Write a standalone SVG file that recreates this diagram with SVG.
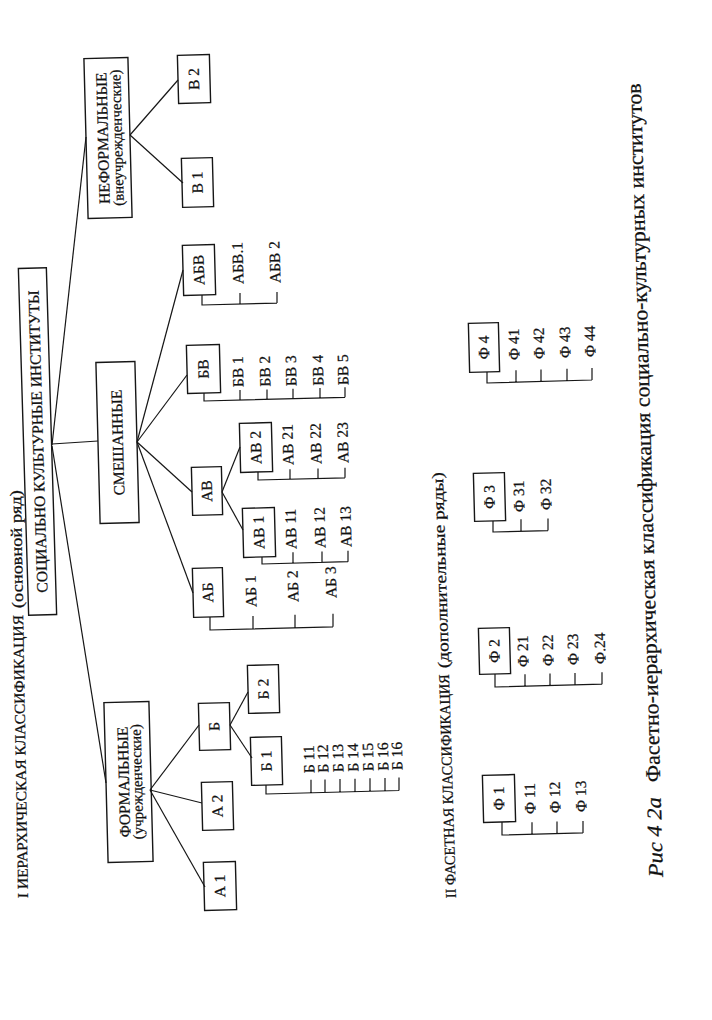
<svg xmlns="http://www.w3.org/2000/svg" width="712" height="1020" viewBox="0 0 712 1020">
<style>
.bx{fill:none;stroke:#161616;stroke-width:1.4}
.ln{fill:none;stroke:#161616;stroke-width:1.2}
text{font-family:"Liberation Serif","Times New Roman",serif;fill:#111;stroke:#111;stroke-width:0.25}
.n{font-size:15.5px;text-anchor:middle}
.l{font-size:15.5px}
.ti{font-size:15px}
.tp{font-size:16px}
.cap{font-size:21px}
</style>
<rect width="712" height="1020" fill="#fff"/>

<g id="titles">
<text class="ti" transform="translate(28,898) rotate(-91)" textLength="283" lengthAdjust="spacingAndGlyphs">I  ИЕРАРХИЧЕСКАЯ КЛАССИФИКАЦИЯ</text>
<text class="tp" transform="translate(23,608) rotate(-91)" textLength="118" lengthAdjust="spacingAndGlyphs">(основной ряд)</text>
<text class="ti" transform="translate(456,898) rotate(-91.8)" textLength="224" lengthAdjust="spacingAndGlyphs">II  ФАСЕТНАЯ КЛАССИФИКАЦИЯ</text>
<text class="tp" transform="translate(449,668) rotate(-91.8)" textLength="196" lengthAdjust="spacingAndGlyphs">(дополнительные ряды)</text>
<text class="cap" font-style="italic" transform="translate(663,877) rotate(-91.6)" textLength="80" lengthAdjust="spacingAndGlyphs">Рис  4 2а</text>
<text class="cap" transform="translate(660.3,782) rotate(-91.6)" textLength="699" lengthAdjust="spacingAndGlyphs">Фасетно-иерархическая классификация социально-культурных институтов</text>
</g>

<g id="connectors" class="ln">
<path d="M52,444 L98,441"/>
<path d="M52,445 L86,137"/>
<path d="M52,446 L106,783"/>
<path d="M137,442 L183,270"/>
<path d="M137,442 L187,375"/>
<path d="M137,442 L192,492"/>
<path d="M137,442 L193,593"/>
<path d="M222,492 L243,530"/>
<path d="M222,492 L240,447"/>
<path d="M130,135 L178,80"/>
<path d="M130,135 L183,183"/>
<path d="M150,790 L199,725"/>
<path d="M150,790 L202,803"/>
<path d="M150,790 L205,887"/>
<path d="M230,725 L248,692"/>
<path d="M230,725 L252,758"/>
<path d="M210,617 V630 L333,626.8 M253,628.9 V615.9 M295,627.8 V614.8 M333,626.8 V613.8"/>
<path d="M262,557 V564 L348,561.7 M293,563.2 V552.2 M322,562.4 V551.4 M348,561.7 V550.7"/>
<path d="M258,472 V480 L345,477.8 M290,479.2 V469.2 M318,478.4 V468.4 M345,477.8 V467.8"/>
<path d="M204,393 V401 L345,397.3 M240,400 V390 M267,399.4 V389.4 M293,398.7 V388.7 M320,398 V388 M345,397.3 V387.3"/>
<path d="M202,295 V305 L277,303.1 M240,304 V293 M277,303.1 V292.1"/>
<path d="M266,785 V794 L399,790.5 M311,792.8 V779.8 M325,792.5 V779.5 M340,792.1 V779.1 M355,791.7 V778.7 M370,791.3 V778.3 M385,790.9 V777.9 M399,790.5 V777.5"/>
<path d="M502,822 V835 L583,832.9 M532,834.2 V822.2 M557,833.6 V821.6 M583,832.9 V820.9"/>
<path d="M495,674 V687 L602,684.2 M525,686.2 V674.2 M550,685.5 V673.5 M575,684.9 V672.9 M602,684.2 V672.2"/>
<path d="M493,521 V532 L548,530.6 M521,531.3 V519.3 M548,530.6 V518.6"/>
<path d="M487,372 V383 L592,380 M516,382.2 V370.2 M541,381.6 V369.6 M567,380.7 V368.7 M592,380 V368"/>
</g>

<g id="n_root" transform="rotate(-1.7 37.5 441.5)">
<rect class="bx" x="23.5" y="268" width="28" height="347"/>
<text class="n" transform="translate(43,441.5) rotate(-90)">СОЦИАЛЬНО КУЛЬТУРНЫЕ ИНСТИТУТЫ</text>
</g>
<g id="n_mixed" transform="rotate(-1.5 117.5 442.5)">
<rect class="bx" x="98" y="362" width="39" height="161"/>
<text class="n" transform="translate(123,442.5) rotate(-90)">СМЕШАННЫЕ</text>
</g>
<g id="n_informal" transform="rotate(-1.5 108 138)">
<rect class="bx" x="86" y="58" width="44" height="160"/>
<text class="n" transform="translate(108,138) rotate(-90)">НЕФОРМАЛЬНЫЕ</text>
<text class="n" style="font-size:15px" transform="translate(122,138) rotate(-90)">(внеучрежденческие)</text>
</g>
<g id="n_formal" transform="rotate(-1.5 128.5 782)">
<rect class="bx" x="106" y="702" width="45" height="160"/>
<text class="n" transform="translate(129,782) rotate(-90)">ФОРМАЛЬНЫЕ</text>
<text class="n" style="font-size:15px" transform="translate(142,782) rotate(-90)">(учрежденческие)</text>
</g>

<g id="n_AB" transform="rotate(-1.5 208 592.5)"><rect class="bx" x="193" y="568" width="30" height="49"/><text class="n" transform="translate(213,592.5) rotate(-90)">АБ</text></g>
<g id="n_AV" transform="rotate(-1.5 207 491)"><rect class="bx" x="192" y="467" width="30" height="48"/><text class="n" transform="translate(212,491) rotate(-90)">АВ</text></g>
<g id="n_BV" transform="rotate(-1.5 203.5 369)"><rect class="bx" x="187" y="345" width="33" height="48"/><text class="n" transform="translate(208.5,369) rotate(-90)">БВ</text></g>
<g id="n_ABV" transform="rotate(-1.5 199 270)"><rect class="bx" x="183" y="245" width="32" height="50"/><text class="n" transform="translate(204,270) rotate(-90)">АБВ</text></g>
<g id="n_AV1" transform="rotate(-1.5 259 532.5)"><rect class="bx" x="243" y="508" width="32" height="49"/><text class="n" transform="translate(264,532.5) rotate(-90)">АВ 1</text></g>
<g id="n_AV2" transform="rotate(-1.5 256 447.5)"><rect class="bx" x="240" y="423" width="32" height="49"/><text class="n" transform="translate(261,447.5) rotate(-90)">АВ 2</text></g>
<g id="n_V2" transform="rotate(-1.5 194 79)"><rect class="bx" x="178" y="55" width="32" height="48"/><text class="n" transform="translate(199,79) rotate(-90)">В 2</text></g>
<g id="n_V1" transform="rotate(-1.5 197.5 182.5)"><rect class="bx" x="182" y="158" width="31" height="49"/><text class="n" transform="translate(202.5,182.5) rotate(-90)">В 1</text></g>
<g id="n_B" transform="rotate(-1.5 214.5 726.5)"><rect class="bx" x="199" y="703" width="31" height="47"/><text class="n" transform="translate(219.5,726.5) rotate(-90)">Б</text></g>
<g id="n_A2" transform="rotate(-1.5 217.5 806)"><rect class="bx" x="202" y="782" width="31" height="48"/><text class="n" transform="translate(222.5,806) rotate(-90)">А 2</text></g>
<g id="n_A1" transform="rotate(-1.5 220 886)"><rect class="bx" x="204" y="862" width="32" height="48"/><text class="n" transform="translate(225,886) rotate(-90)">А 1</text></g>
<g id="n_B2" transform="rotate(-1.5 263.5 689)"><rect class="bx" x="248" y="665" width="31" height="48"/><text class="n" transform="translate(268.5,689) rotate(-90)">Б 2</text></g>
<g id="n_B1" transform="rotate(-1.5 266.5 761)"><rect class="bx" x="251" y="737" width="31" height="48"/><text class="n" transform="translate(271.5,761) rotate(-90)">Б 1</text></g>
<g id="n_F1" transform="rotate(-1.5 499 798.5)"><rect class="bx" x="483" y="775" width="32" height="47"/><text class="n" transform="translate(504,798.5) rotate(-90)">Ф 1</text></g>
<g id="n_F2" transform="rotate(-1.5 494.5 651)"><rect class="bx" x="479" y="628" width="31" height="46"/><text class="n" transform="translate(499.5,651) rotate(-90)">Ф 2</text></g>
<g id="n_F3" transform="rotate(-1.5 489.5 497)"><rect class="bx" x="474" y="473" width="31" height="48"/><text class="n" transform="translate(494.5,497) rotate(-90)">Ф 3</text></g>
<g id="n_F4" transform="rotate(-1.5 484 347.5)"><rect class="bx" x="469" y="323" width="30" height="49"/><text class="n" transform="translate(489,347.5) rotate(-90)">Ф 4</text></g>

<g id="leaves_AB" class="l">
<text transform="translate(256.5,607) rotate(-91.5)">АБ 1</text>
<text transform="translate(298.5,602) rotate(-91.5)">АБ 2</text>
<text transform="translate(336.5,598) rotate(-91.5)">АБ 3</text>
</g>
<g id="leaves_AV1" class="l">
<text transform="translate(296.5,549) rotate(-91.5)">АВ 11</text>
<text transform="translate(325.5,548) rotate(-91.5)">АВ 12</text>
<text transform="translate(351.5,547) rotate(-91.5)">АВ 13</text>
</g>
<g id="leaves_AV2" class="l">
<text transform="translate(293.5,465) rotate(-91.5)">АВ 21</text>
<text transform="translate(321.5,464) rotate(-91.5)">АВ 22</text>
<text transform="translate(348.5,463) rotate(-91.5)">АВ 23</text>
</g>
<g id="leaves_BV" class="l">
<text transform="translate(243.5,387) rotate(-91.5)">БВ 1</text>
<text transform="translate(270.5,386.5) rotate(-91.5)">БВ 2</text>
<text transform="translate(296.5,386) rotate(-91.5)">БВ 3</text>
<text transform="translate(323.5,385.5) rotate(-91.5)">БВ 4</text>
<text transform="translate(348.5,385) rotate(-91.5)">БВ 5</text>
</g>
<g id="leaves_ABV" class="l">
<text transform="translate(243.5,284) rotate(-91.5)">АБВ.1</text>
<text transform="translate(280.5,283) rotate(-91.5)">АБВ 2</text>
</g>
<g id="leaves_B1" class="l">
<text transform="translate(314.5,773) rotate(-91.5)">Б 11</text>
<text transform="translate(328.5,772.5) rotate(-91.5)">Б 12</text>
<text transform="translate(343.5,772) rotate(-91.5)">Б 13</text>
<text transform="translate(358.5,771.5) rotate(-91.5)">Б 14</text>
<text transform="translate(373.5,771) rotate(-91.5)">Б 15</text>
<text transform="translate(388.5,770.5) rotate(-91.5)">Б 16</text>
<text transform="translate(402.5,770) rotate(-91.5)">Б 16</text>
</g>
<g id="leaves_F1" class="l">
<text transform="translate(535.5,814) rotate(-91.5)">Ф 11</text>
<text transform="translate(560.5,813) rotate(-91.5)">Ф 12</text>
<text transform="translate(586.5,812) rotate(-91.5)">Ф 13</text>
</g>
<g id="leaves_F2" class="l">
<text transform="translate(528.5,667) rotate(-91.5)">Ф 21</text>
<text transform="translate(553.5,666) rotate(-91.5)">Ф 22</text>
<text transform="translate(578.5,665) rotate(-91.5)">Ф 23</text>
<text transform="translate(605.5,664) rotate(-91.5)">Ф.24</text>
</g>
<g id="leaves_F3" class="l">
<text transform="translate(524.5,512) rotate(-91.5)">Ф 31</text>
<text transform="translate(551.5,510) rotate(-91.5)">Ф 32</text>
</g>
<g id="leaves_F4" class="l">
<text transform="translate(519.5,360) rotate(-91.5)">Ф 41</text>
<text transform="translate(544.5,359) rotate(-91.5)">Ф 42</text>
<text transform="translate(570.5,358) rotate(-91.5)">Ф 43</text>
<text transform="translate(595.5,357) rotate(-91.5)">Ф 44</text>
</g>
</svg>
